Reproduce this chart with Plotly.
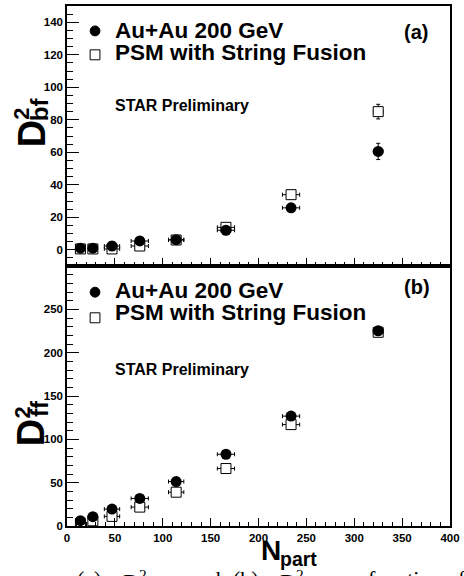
import plotly.graph_objects as go

# ---------------- data ----------------
npart = [14, 27, 47, 76, 114, 166, 234, 325]
npart_err = [3, 4, 8, 9, 8, 9, 9, 5]

dbf_auau = [1.0, 1.0, 2.3, 5.4, 6.2, 12.0, 25.8, 60.5]
dbf_auau_err = [0.5, 0.5, 0.8, 1.0, 1.2, 1.5, 2.0, 5.0]
dbf_psm = [0.5, 0.5, 0.5, 2.3, 6.0, 13.8, 33.9, 85.0]
dbf_psm_err = [0.5, 0.5, 0.8, 1.0, 1.2, 1.5, 2.0, 4.5]

dff_auau = [6.1, 10.7, 19.5, 31.8, 51.3, 82.8, 126.8, 225.3]
dff_auau_err = [1.0, 1.0, 1.5, 2.0, 2.5, 3.0, 3.5, 4.0]
dff_psm = [2.7, 6.0, 11.1, 21.8, 39.0, 66.3, 117.0, 223.5]
dff_psm_err = [1.0, 1.0, 1.5, 2.0, 2.5, 3.0, 3.5, 4.0]

legend_labels = ["Au+Au 200 GeV", "PSM with String Fusion"]
panel_labels = ["(a)", "(b)"]
prelim = "STAR Preliminary"
caption_parts = ["(a)", "D<sup>2</sup><sub>bf</sub>", "and", "(b)",
                 "D<sup>2</sup><sub>ff</sub>", "as a function of N<sub>part</sub>"]

# ---------------- layout geometry ----------------
W, H = 464, 576
L, R, T, B = 67, 5, 4, 50
PW, PH = W - L - R, H - T - B


def px_x(px):
    return (px - L) / PW


def px_y(py):
    return (H - B - py) / PH


BOLD = "Liberation Sans"
fig = go.Figure()


def add_pair(yvals_psm, err_psm, yvals_data, err_data, xa, ya):
    ex = dict(type="data", array=npart_err, color="black", thickness=1, width=2)
    fig.add_trace(go.Scatter(
        x=npart, y=yvals_psm, mode="markers", xaxis=xa, yaxis=ya,
        error_x=ex,
        error_y=dict(type="data", array=err_psm, color="black", thickness=1, width=2),
        marker=dict(symbol="square", size=10, color="white",
                    line=dict(color="black", width=1)),
        showlegend=False))
    fig.add_trace(go.Scatter(
        x=npart, y=yvals_data, mode="markers", xaxis=xa, yaxis=ya,
        error_x=ex,
        error_y=dict(type="data", array=err_data, color="black", thickness=1, width=2),
        marker=dict(symbol="circle", size=11, color="black",
                    line=dict(color="black", width=0)),
        showlegend=False))


add_pair(dbf_psm, dbf_psm_err, dbf_auau, dbf_auau_err, "x", "y")
add_pair(dff_psm, dff_psm_err, dff_auau, dff_auau_err, "x2", "y2")

tickfont = dict(family=BOLD, size=11.5, color="black", weight="bold")
common = dict(showline=True, linecolor="black", linewidth=1.5, mirror=True,
              ticks="inside", tickcolor="black", tickwidth=1,
              showgrid=False, zeroline=False, tickfont=tickfont)

xcommon = dict(common, range=[0, 400], tickmode="linear", tick0=0, dtick=50,
               ticklen=8, ticklabeloverflow="allow",
               minor=dict(ticks="inside", tick0=0, dtick=10, ticklen=4,
                          tickcolor="black", tickwidth=1, showgrid=False))

fig.update_layout(
    width=W, height=H,
    margin=dict(l=L, r=R, t=T, b=B),
    paper_bgcolor="white", plot_bgcolor="white",
    xaxis=dict(xcommon, anchor="y", domain=[0, 1], showticklabels=False),
    xaxis2=dict(xcommon, anchor="y2", domain=[0, 1], showticklabels=True),
    yaxis=dict(common, anchor="x", domain=[0.5, 1], range=[-10, 150],
               tickmode="linear", tick0=0, dtick=20, ticklen=12,
               minor=dict(ticks="inside", tick0=0, dtick=5, ticklen=6,
                          tickcolor="black", tickwidth=1, showgrid=False)),
    yaxis2=dict(common, anchor="x2", domain=[0, 0.5], range=[0, 300],
                tickmode="array", tickvals=[0, 50, 100, 150, 200, 250], ticklen=12,
                minor=dict(ticks="inside", tickmode="array",
                           tickvals=list(range(0, 301, 10)), ticklen=6,
                           tickcolor="black", tickwidth=1, showgrid=False)),
    showlegend=False,
)

ann = []
shapes = []


def text(px, py, s, size, xanchor="left", yanchor="middle", angle=0,
         family=BOLD, weight="bold"):
    ann.append(dict(x=px_x(px), y=px_y(py), xref="paper", yref="paper",
                    text=s, showarrow=False, xanchor=xanchor, yanchor=yanchor,
                    textangle=angle,
                    font=dict(family=family, size=size, color="black", weight=weight)))


def circle(cx, cy, r):
    shapes.append(dict(type="circle", xref="paper", yref="paper",
                       x0=px_x(cx - r), x1=px_x(cx + r), y0=px_y(cy + r), y1=px_y(cy - r),
                       fillcolor="black", line=dict(color="black", width=1)))


def square(cx, cy, h):
    shapes.append(dict(type="rect", xref="paper", yref="paper",
                       x0=px_x(cx - h), x1=px_x(cx + h), y0=px_y(cy + h), y1=px_y(cy - h),
                       fillcolor="white", line=dict(color="black", width=1)))


# legends / labels for both panels (pixel positions measured on the reference)
panels = [
    dict(circ=29, sq=53, t1=28.5, t2=50.5, pre=103.5, lab=30, name=panel_labels[0]),
    dict(circ=291.3, sq=317, t1=289.5, t2=311.5, pre=369, lab=286, name=panel_labels[1]),
]
for p in panels:
    circle(95.7, p["circ"], 5)
    square(95.7, p["sq"], 5)
    text(114, p["t1"], legend_labels[0], 22.5)
    text(114, p["t2"], legend_labels[1], 22.5)
    text(114, p["pre"], prelim, 16)
    text(410, p["lab"], p["name"], 20)

# y titles (stacked super/subscript as in the reference)
for off, sub in [(0, "bf"), (300, "ff")]:
    text(31, 132 + off, "D", 38, xanchor="center", angle=-90)
    text(21, 112 + off, "2", 22, xanchor="center", angle=-90)
    text(39, 108 + off, sub, 24, xanchor="center", angle=-90)

# x title
text(263, 550.7, "N", 28)
text(283, 559.4, "part", 19.5)

# caption (mostly cut off by the page edge)
for xpos, part in zip([75, 122, 190, 235, 283, 333], caption_parts):
    text(xpos, 564, part, 22, yanchor="top", family="Liberation Serif", weight="normal")

fig.update_layout(annotations=ann, shapes=shapes)
fig.write_html("out.html")
